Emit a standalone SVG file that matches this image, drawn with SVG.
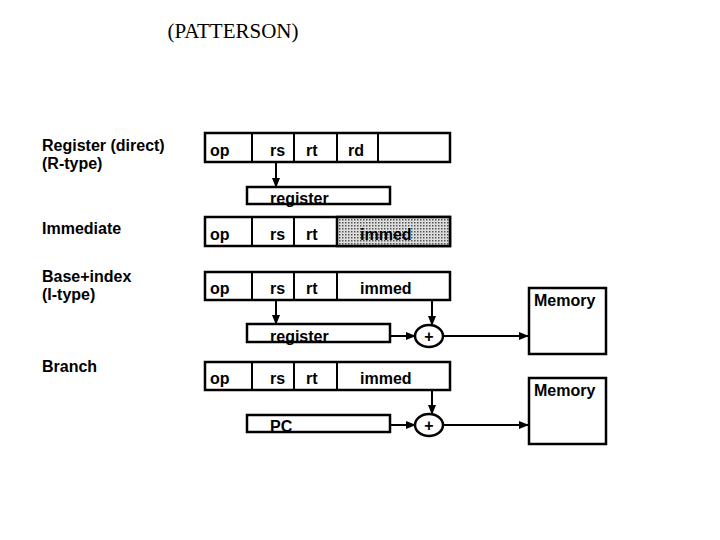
<svg xmlns="http://www.w3.org/2000/svg" width="720" height="540" viewBox="0 0 720 540">
<defs>
<style>
.b{fill:#fff;stroke:#000;stroke-width:2.5}
.l{stroke:#000;stroke-width:2;fill:none}
.t{font-family:"Liberation Sans",Arial,sans-serif;font-weight:bold;font-size:16px;fill:#000}
</style>
<pattern id="dots" width="3" height="3" patternUnits="userSpaceOnUse"><rect width="3" height="3" fill="#ddd"/><rect width="1.5" height="1.5" fill="#555"/></pattern>
<marker id="a" markerWidth="10" markerHeight="8" refX="9" refY="4" orient="auto" markerUnits="userSpaceOnUse"><path d="M0,0L10,4L0,8z" fill="#000"/></marker>
</defs>
<rect width="720" height="540" fill="#fff"/>
<text x="233" y="38" text-anchor="middle" font-family="Liberation Serif,serif" font-size="21">(PATTERSON)</text>
<g id="labels" class="t">
<text x="42" y="151" class="t">Register (direct)</text>
<text x="42" y="169" class="t">(R-type)</text>
<text x="42" y="234" class="t">Immediate</text>
<text x="42" y="282" class="t">Base+index</text>
<text x="42" y="300" class="t">(I-type)</text>
<text x="42" y="372" class="t">Branch</text>
</g>
<g id="row1">
<rect class="b" x="205" y="133" width="245" height="29"/>
<path class="l" d="M252,133V162M294,133V162M337,133V162M378,133V162"/>
<text class="t" x="210" y="156">op</text><text class="t" x="270" y="156">rs</text><text class="t" x="306" y="156">rt</text><text class="t" x="348" y="156">rd</text>
</g>
<g id="reg1"><rect class="b" x="247" y="187" width="143" height="17"/><text class="t" x="270" y="204">register</text></g>
<g id="row2">
<rect class="b" x="205" y="217" width="245" height="29"/>
<rect x="337" y="217" width="113" height="29" fill="url(#dots)" stroke="#000" stroke-width="2.5"/>
<path class="l" d="M252,217V246M294,217V246"/>
<text class="t" x="210" y="240">op</text><text class="t" x="270" y="240">rs</text><text class="t" x="306" y="240">rt</text><text class="t" x="360" y="240">immed</text>
</g>
<g id="row3">
<rect class="b" x="205" y="272" width="245" height="28"/>
<path class="l" d="M252,272V300M294,272V300M337,272V300"/>
<text class="t" x="210" y="294">op</text><text class="t" x="270" y="294">rs</text><text class="t" x="306" y="294">rt</text><text class="t" x="360" y="294">immed</text>
</g>
<g id="reg2"><rect class="b" x="247" y="324" width="143" height="18"/><text class="t" x="270" y="342">register</text></g>
<g id="plus1"><ellipse class="b" cx="429" cy="336" rx="14" ry="11"/><text class="t" x="429" y="342" text-anchor="middle">+</text></g>
<g id="mem1"><rect class="b" x="529" y="288" width="77" height="66"/><text class="t" x="534" y="306">Memory</text></g>
<g id="row4">
<rect class="b" x="205" y="362" width="245" height="28"/>
<path class="l" d="M252,362V390M294,362V390M337,362V390"/>
<text class="t" x="210" y="384">op</text><text class="t" x="270" y="384">rs</text><text class="t" x="306" y="384">rt</text><text class="t" x="360" y="384">immed</text>
</g>
<g id="pc"><rect class="b" x="247" y="415" width="143" height="17"/><text class="t" x="270" y="432">PC</text></g>
<g id="plus2"><ellipse class="b" cx="429" cy="425" rx="14" ry="11"/><text class="t" x="429" y="431" text-anchor="middle">+</text></g>
<g id="mem2"><rect class="b" x="529" y="378" width="77" height="66"/><text class="t" x="534" y="396">Memory</text></g>
<g id="connectors" class="l" marker-end="url(#a)">
<path d="M276,162V187"/>
<path d="M276,300V324"/>
<path d="M432,300V325"/>
<path d="M390,336H415"/>
<path d="M443,336H528"/>
<path d="M432,390V414"/>
<path d="M390,425H415"/>
<path d="M443,425H528"/>
</g>
</svg>
